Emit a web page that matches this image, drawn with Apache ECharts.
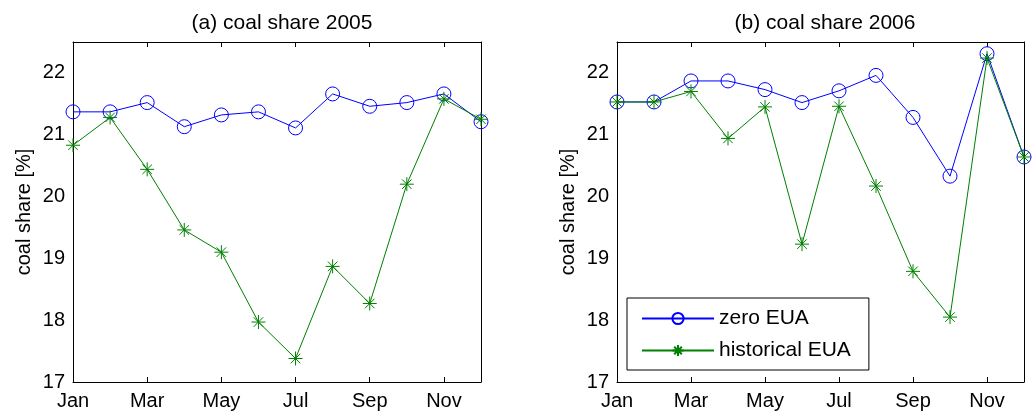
<!DOCTYPE html>
<html><head><meta charset="utf-8">
<script src="https://cdn.jsdelivr.net/npm/echarts@6/dist/echarts.min.js"></script>
<style>html,body{margin:0;padding:0;background:#fff}#c{width:1032px;height:419px}</style>
</head><body><div id="c"></div>
<script>
const months = ['Jan','Feb','Mar','Apr','May','Jun','Jul','Aug','Sep','Oct','Nov','Dec'];
const titles = ['(a) coal share 2005', '(b) coal share 2006'];
const yName = 'coal share [%]';
const seriesNames = ['zero EUA', 'historical EUA'];
const zero2005 = [21.37, 21.37, 21.52, 21.13, 21.32, 21.37, 21.11, 21.66, 21.46, 21.52, 21.66, 21.21];
const hist2005 = [20.83, 21.28, 20.44, 19.46, 19.10, 17.97, 17.38, 18.87, 18.27, 20.20, 21.58, 21.25];
const zero2006 = [21.53, 21.53, 21.87, 21.87, 21.73, 21.52, 21.71, 21.96, 21.28, 20.33, 22.31, 20.64];
const hist2006 = [21.53, 21.53, 21.70, 20.94, 21.45, 19.23, 21.46, 20.17, 18.79, 18.05, 22.24, 20.64];
const yMin = 17, yMax = 22.5, yStep = 1;

const FONT = "'Liberation Sans', Arial, Helvetica, sans-serif";
const BLUE = '#0000ff', GREEN = '#008000';
const star = 'path://M0,5L10,5M5,0L5,10M1.6,1.6L8.4,8.4M1.6,8.4L8.4,1.6';
const grids = [
  {left: 73, right: 551, top: 42, bottom: 37},
  {left: 617, right: 8, top: 42, bottom: 37}
];
const xAxes = [], yAxes = [];
grids.forEach((g, i) => {
  const base = {type: 'category', data: months, boundaryGap: false, gridIndex: i,
    axisLine: {show: true, lineStyle: {color: '#000', width: 1}},
    axisTick: {inside: true, length: 5, interval: 1, lineStyle: {color: '#000'}},
    splitLine: {show: false}};
  xAxes.push(Object.assign({}, base, {position: 'bottom',
    axisLabel: {interval: 1, color: '#000', fontSize: 20, fontFamily: FONT, margin: 9}}));
  xAxes.push(Object.assign({}, base, {position: 'top', axisLabel: {show: false}}));
  const ybase = {type: 'value', min: yMin, max: yMax, interval: yStep, gridIndex: i,
    axisLine: {show: true, onZero: false, lineStyle: {color: '#000', width: 1}},
    axisTick: {inside: true, length: 5, lineStyle: {color: '#000'}},
    splitLine: {show: false}};
  yAxes.push(Object.assign({}, ybase, {position: 'left',
    name: yName, nameLocation: 'middle', nameGap: 39, nameRotate: 90,
    nameTextStyle: {color: '#000', fontSize: 20, fontFamily: FONT},
    axisLabel: {color: '#000', fontSize: 20, fontFamily: FONT, margin: 8,
      formatter: v => Number.isInteger(v) ? String(v) : ''}}));
  yAxes.push(Object.assign({}, ybase, {position: 'right', axisLabel: {show: false},
    axisTick: {inside: true, length: 5, lineStyle: {color: '#000'}}}));
});
function zeroSeries(data, gi) {
  return {name: seriesNames[0], type: 'line', data: data, xAxisIndex: gi * 2, yAxisIndex: gi * 2,
    symbol: 'circle', symbolSize: 14, showAllSymbol: true,
    lineStyle: {color: BLUE, width: 1},
    itemStyle: {color: 'rgba(255,255,255,0)', borderColor: BLUE, borderWidth: 1},
    emphasis: {disabled: true}, animation: false, z: 2};
}
function histSeries(data, gi) {
  return {name: seriesNames[1], type: 'line', data: data, xAxisIndex: gi * 2, yAxisIndex: gi * 2,
    symbol: star, symbolSize: 14, showAllSymbol: true,
    lineStyle: {color: GREEN, width: 1},
    itemStyle: {color: 'none', borderColor: GREEN, borderWidth: 1},
    emphasis: {disabled: true}, animation: false, z: 3};
}
const chart = echarts.init(document.getElementById('c'), null, {renderer: 'canvas'});
chart.setOption({
  animation: false,
  backgroundColor: '#fff',
  textStyle: {fontFamily: FONT},
  title: [
    {text: titles[0], left: 277, top: 8, textAlign: 'center',
      textStyle: {fontSize: 21, fontWeight: 'normal', color: '#000', fontFamily: FONT}},
    {text: titles[1], left: 820, top: 8, textAlign: 'center',
      textStyle: {fontSize: 21, fontWeight: 'normal', color: '#000', fontFamily: FONT}}
  ],
  grid: grids,
  xAxis: xAxes,
  yAxis: yAxes,
  legend: {
    data: seriesNames, orient: 'vertical', left: 627, top: 298,
    backgroundColor: '#fff', borderColor: '#000', borderWidth: 1,
    padding: [10, 18, 9, 14], itemWidth: 72, itemHeight: 14, itemGap: 11,
    textStyle: {fontSize: 21, color: '#000', fontFamily: FONT},
    selectedMode: false
  },
  series: [zeroSeries(zero2005, 0), histSeries(hist2005, 0), zeroSeries(zero2006, 1), histSeries(hist2006, 1)]
});
</script></body></html>
